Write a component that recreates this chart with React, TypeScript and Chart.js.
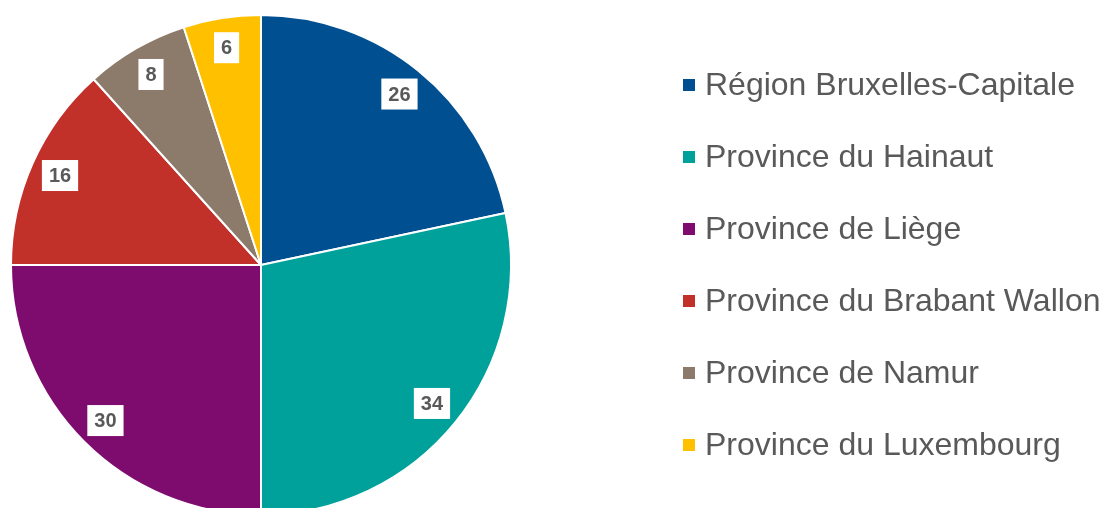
import React, { useEffect, useRef } from "react";
import { Chart, registerables } from "chart.js";

Chart.register(...registerables);

const categories = [
  "Région Bruxelles-Capitale",
  "Province du Hainaut",
  "Province de Liège",
  "Province du Brabant Wallon",
  "Province de Namur",
  "Province du Luxembourg",
];
const values = [26, 34, 30, 16, 8, 6];
const colors = ["#004F91", "#00A19A", "#7E0C6E", "#C2302A", "#8C7A6B", "#FFC000"];

const FONT = "'Liberation Sans', Arial, sans-serif";

const labelPlugin = {
  id: "sliceLabels",
  afterDatasetsDraw(chart: any) {
    const ctx = chart.ctx;
    const meta = chart.getDatasetMeta(0);
    const data = chart.data.datasets[0].data;
    ctx.save();
    ctx.font = `bold 20px ${FONT}`;
    ctx.textAlign = "center";
    ctx.textBaseline = "middle";
    meta.data.forEach((arc: any, i: number) => {
      const { x, y, startAngle, endAngle, outerRadius } = arc.getProps(
        ["x", "y", "startAngle", "endAngle", "outerRadius"],
        true
      );
      const mid = (startAngle + endAngle) / 2;
      const r = outerRadius * 0.88;
      const px = x + Math.cos(mid) * r;
      const py = y + Math.sin(mid) * r;
      const txt = String(data[i]);
      const w = ctx.measureText(txt).width + 14;
      const h = 31;
      ctx.fillStyle = "#FFFFFF";
      ctx.fillRect(px - w / 2, py - h / 2, w, h);
      ctx.fillStyle = "#595959";
      ctx.fillText(txt, px, py + 1);
    });
    ctx.restore();
  },
};

const legendPlugin = {
  id: "sideLegend",
  afterDraw(chart: any) {
    const ctx = chart.ctx;
    const labels = chart.data.labels as string[];
    const bg = chart.data.datasets[0].backgroundColor as string[];
    const n = labels.length;
    const cy = (chart.chartArea.top + chart.chartArea.bottom) / 2;
    const step = 72;
    const boxX = 683;
    ctx.save();
    ctx.font = `32px ${FONT}`;
    ctx.textBaseline = "middle";
    ctx.textAlign = "left";
    labels.forEach((lab, i) => {
      const yy = cy + (i - (n - 1) / 2) * step;
      ctx.fillStyle = bg[i];
      ctx.fillRect(boxX, yy - 6, 12, 12);
      ctx.fillStyle = "#595959";
      ctx.fillText(lab, boxX + 22, yy + 1);
    });
    ctx.restore();
  },
};

export default function App() {
  const ref = useRef<HTMLCanvasElement | null>(null);
  useEffect(() => {
    if (!ref.current) return;
    const chart = new Chart(ref.current, {
      type: "pie",
      data: {
        labels: categories,
        datasets: [
          {
            data: values,
            backgroundColor: colors,
            borderColor: "#FFFFFF",
            borderWidth: 2,
          },
        ],
      },
      options: {
        responsive: false,
        animation: false,
        layout: { padding: { left: 10, right: 592, top: 14, bottom: 12 } },
        plugins: {
          legend: { display: false },
          tooltip: { enabled: false },
        },
      },
      plugins: [labelPlugin, legendPlugin],
    });
    return () => chart.destroy();
  }, []);
  return (
    <div
      style={{
        position: "fixed",
        left: 0,
        top: 0,
        width: 1104,
        height: 508,
        overflow: "hidden",
        background: "#FFFFFF",
      }}
    >
      <canvas ref={ref} width={1104} height={528} style={{ display: "block" }} />
    </div>
  );
}
